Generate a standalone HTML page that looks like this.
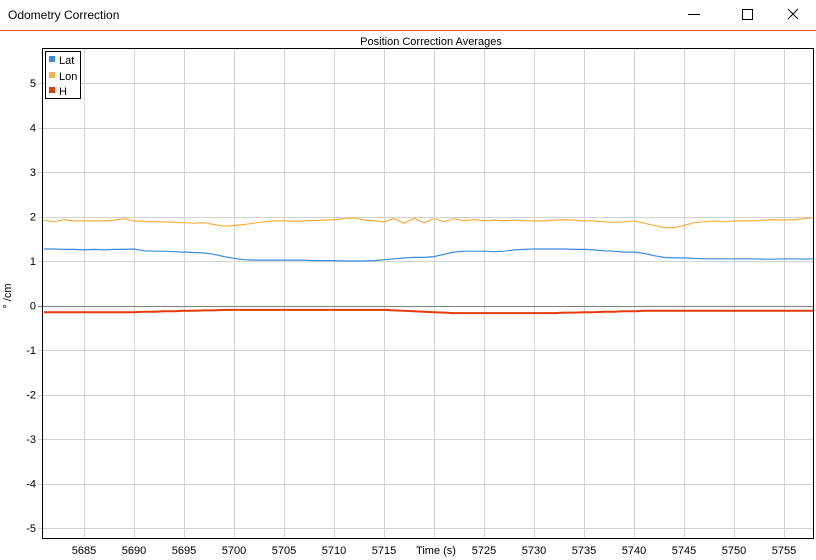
<!DOCTYPE html>
<html><head><meta charset="utf-8"><style>
body{margin:0;width:816px;height:560px;background:#fff;overflow:hidden;font-family:"Liberation Sans",sans-serif}
svg{position:absolute;left:0;top:0}
</style></head><body>
<svg width="816" height="560">
<rect x="0" y="0" width="816" height="30" fill="#fff"/>
<text x="8" y="19" font-size="12" fill="#000">Odometry Correction</text>
<line x1="688" y1="14.5" x2="700" y2="14.5" stroke="#000"/>
<rect x="742.5" y="9.5" width="10" height="10" fill="none" stroke="#000"/>
<path d="M788 9 L798 19 M798 9 L788 19" stroke="#000"/>
<line x1="0" y1="30.5" x2="816" y2="30.5" stroke="#e8440c"/>
<text x="431" y="45" font-size="11" text-anchor="middle">Position Correction Averages</text>
<g id="grid"></g>
<g id="series"></g>
<rect x="42.5" y="48.5" width="771" height="490" fill="none" stroke="#000"/>
<text x="0" y="0" font-size="11" transform="translate(11,296) rotate(-90)" text-anchor="middle">° /cm</text>
<g>
<rect x="45.5" y="51.5" width="35" height="47" fill="#fff" stroke="#000"/>
<rect x="49" y="56" width="6" height="6" fill="#3c8ce7"/>
<text x="59" y="64" font-size="11">Lat</text>
<rect x="49" y="72" width="6" height="6" fill="#f9b043"/>
<text x="59" y="80" font-size="11">Lon</text>
<rect x="49" y="87" width="6" height="6" fill="#e33b0b"/>
<text x="59" y="95" font-size="11">H</text>
</g>
</svg>
<script>
const times=[];for(let t=5681;t<=5758;t++)times.push(t);
const latValues=[1.27,1.27,1.26,1.26,1.25,1.26,1.25,1.26,1.26,1.27,
1.23,1.22,1.22,1.21,1.2,1.19,1.18,1.15,1.1,1.06,
1.03,1.02,1.02,1.02,1.02,1.02,1.02,1.01,1.01,1.01,
1.0,1.0,1.0,1.01,1.03,1.05,1.07,1.08,1.08,1.1,
1.15,1.2,1.22,1.22,1.22,1.21,1.22,1.25,1.26,1.27,
1.27,1.27,1.27,1.26,1.26,1.25,1.23,1.22,1.2,1.2,
1.17,1.12,1.08,1.07,1.07,1.06,1.05,1.05,1.05,1.05,
1.05,1.05,1.04,1.04,1.05,1.05,1.04,1.05];
const lonValues=[1.92,1.88,1.93,1.9,1.9,1.9,1.9,1.92,1.95,1.9,
1.89,1.88,1.88,1.87,1.86,1.85,1.86,1.82,1.78,1.8,
1.82,1.85,1.88,1.9,1.9,1.89,1.9,1.91,1.92,1.93,
1.95,1.97,1.92,1.9,1.88,1.95,1.85,1.96,1.86,1.95,
1.88,1.95,1.9,1.93,1.9,1.92,1.9,1.92,1.9,1.9,
1.9,1.92,1.93,1.92,1.9,1.9,1.88,1.87,1.88,1.9,
1.85,1.8,1.75,1.75,1.8,1.86,1.88,1.9,1.88,1.9,
1.9,1.9,1.92,1.93,1.92,1.93,1.95,1.98];
const hValues=[-0.15,-0.15,-0.15,-0.15,-0.15,-0.15,-0.15,-0.15,-0.15,-0.15,
-0.14,-0.14,-0.13,-0.13,-0.12,-0.12,-0.11,-0.11,-0.1,-0.1,
-0.1,-0.1,-0.1,-0.1,-0.1,-0.1,-0.1,-0.1,-0.1,-0.1,
-0.1,-0.1,-0.1,-0.1,-0.1,-0.11,-0.12,-0.13,-0.14,-0.15,
-0.16,-0.17,-0.17,-0.17,-0.17,-0.17,-0.17,-0.17,-0.17,-0.17,
-0.17,-0.17,-0.16,-0.16,-0.15,-0.15,-0.14,-0.14,-0.13,-0.13,
-0.12,-0.12,-0.12,-0.12,-0.12,-0.12,-0.12,-0.12,-0.12,-0.12,
-0.12,-0.12,-0.12,-0.12,-0.12,-0.12,-0.12,-0.12];
const xTicks=[5685,5690,5695,5700,5705,5710,5715,5725,5730,5735,5740,5745,5750,5755];
const xGrid=[5685,5690,5695,5700,5705,5710,5715,5720,5725,5730,5735,5740,5745,5750,5755];
const yTicks=[5,4,3,2,1,0,-1,-2,-3,-4,-5];
const X=t=>234+(t-5700)*10;
const Y=v=>305.5-v*44.5;
const NS="http://www.w3.org/2000/svg";
const grid=document.getElementById('grid'),ser=document.getElementById('series');
function mk(tag,a,p){const e=document.createElementNS(NS,tag);for(const k in a)e.setAttribute(k,a[k]);p.appendChild(e);return e;}
xGrid.forEach(t=>{const l=mk('line',{x1:X(t)+.5,x2:X(t)+.5,y1:49,y2:539,stroke:'#d3d3d3'},grid);

});
xTicks.forEach(t=>{const s=mk('text',{x:X(t),y:554,'font-size':11,'text-anchor':'middle'},grid);s.textContent=t;

});
const xt=mk('text',{x:436,y:554,'font-size':11,'text-anchor':'middle'},grid);xt.textContent='Time (s)';


yTicks.forEach(v=>{const l=mk('line',{x1:38,x2:814,y1:Math.round(Y(v))+.5,y2:Math.round(Y(v))+.5,stroke:v===0?'#808080':'#d3d3d3'},grid);


const s=mk('text',{x:36,y:Y(v)+4,'font-size':11,'text-anchor':'end'},grid);s.textContent=v;

});
function line(vals,color,name,w){const d=vals.map((v,i)=>(i?'L':'M')+X(times[i]).toFixed(1)+' '+Y(v).toFixed(1)).join(' ');
const p=mk('path',{d:d,fill:'none',stroke:color,'stroke-width':w},ser);

}
line(latValues,'#3c8ce7','lat-series',1.2);
line(lonValues,'#f9b043','lon-series',1.2);
line(hValues,'#e33b0b','h-series',2);
</script>
</body></html>
